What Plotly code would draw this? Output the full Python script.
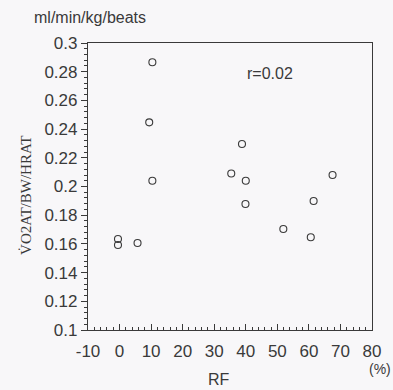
import plotly.graph_objects as go

rf = [10.4, 9.4, 38.8, 35.4, 67.5, 40.0, 10.4, 39.9, 61.5, 51.9, 60.6, -0.5, -0.5, 5.7]
vo2 = [0.2866, 0.2447, 0.2296, 0.2091, 0.2080, 0.2040, 0.2040, 0.1878, 0.1899,
       0.1704, 0.1646, 0.1634, 0.1592, 0.1606]

x_ticks = [-10, 0, 10, 20, 30, 40, 50, 60, 70, 80]
x_labels = ["-10", "0", "10", "20", "30", "40", "50", "60", "70", "80"]
r_text = "r=0.02"

ink = "#3a3a3a"
font = "Liberation Sans, Arial, sans-serif"

W, H = 393, 390
ML, MR, MT, MB = 88, 17, 43, 60

fig = go.Figure()
fig.add_trace(go.Scatter(
    x=rf, y=vo2, mode="markers",
    marker=dict(symbol="circle-open", size=7, color=ink, line=dict(width=1.1, color=ink)),
    showlegend=False, hoverinfo="skip"))

fig.update_layout(
    width=W, height=H,
    margin=dict(l=ML, r=MR, t=MT, b=MB),
    paper_bgcolor="#f8f7f9", plot_bgcolor="#f8f7f9",
    font=dict(family=font, size=16, color=ink),
    xaxis=dict(range=[-10, 80], tickvals=x_ticks, ticktext=x_labels, ticks="inside", ticklen=6,
               tickwidth=1, tickcolor=ink, showline=True, linecolor=ink, linewidth=1.2,
               mirror=True, showgrid=False, zeroline=False, ticklabelstandoff=5,
               minor=dict(dtick=2, ticks="inside", ticklen=3, tickcolor=ink, showgrid=False),
               tickfont=dict(size=17)),
    yaxis=dict(range=[0.1, 0.3], dtick=0.02, tick0=0.1, ticks="outside", ticklen=6,
               tickwidth=1, tickcolor=ink, showline=True, linecolor=ink, linewidth=1.2,
               mirror=True, showgrid=False, zeroline=False,
               minor=dict(dtick=0.004, ticks="outside", ticklen=3, tickcolor=ink, showgrid=False),
               tickfont=dict(size=17)),
)

fig.add_annotation(x=47.8, y=0.2787, xref="x", yref="y", text=r_text, showarrow=False,
                   xanchor="center", yanchor="middle", font=dict(size=16, color=ink))


def px_ann(px, py, text, size, angle=0, family=font):
    fig.add_annotation(
        xref="paper", yref="paper",
        x=(px - ML) / (W - ML - MR), y=(H - MB - py) / (H - MT - MB),
        xanchor="center", yanchor="middle", text=text, showarrow=False,
        textangle=angle, font=dict(size=size, color=ink, family=family))


px_ann(90, 17, "ml/min/kg/beats", 16)
px_ann(221, 379, "RF", 16)
px_ann(384, 369, "(%)", 14)
px_ann(25, 195, "V\u0307O2AT/BW/HRAT", 15, angle=-90,
       family="Liberation Serif, Times New Roman, serif")

fig.write_html("out.html")
